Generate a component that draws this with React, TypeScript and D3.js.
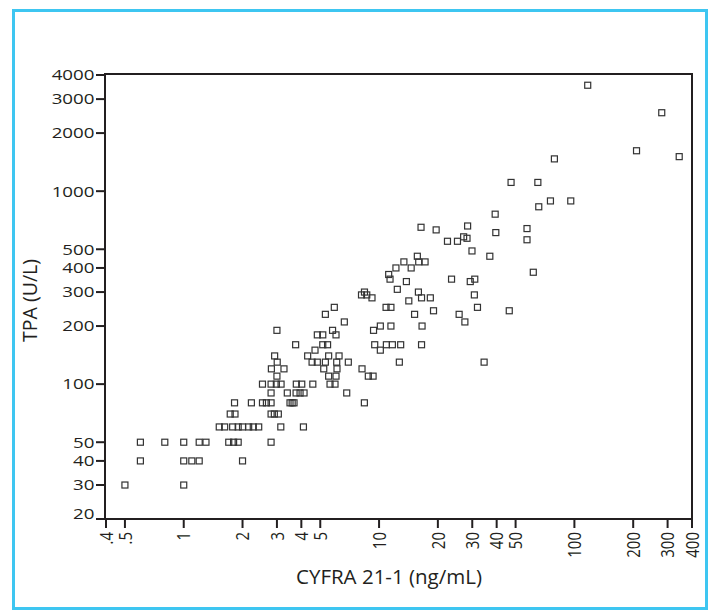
import React from "react";
import * as d3 from "d3";

// CYFRA 21-1 (ng/mL) and TPA (U/L) per patient, grouped by TPA level
const cyfra = [
  0.5, 1.0,
  0.6, 1.0, 1.1, 1.2, 2.0,
  0.6, 0.8, 1.0, 1.2, 1.3, 1.7, 1.8, 1.9, 2.8,
  1.52, 1.62, 1.78, 1.9, 2.0, 2.15, 2.27, 2.42, 3.14, 4.1,
  1.73, 1.83, 2.8, 2.91, 3.05,
  1.82, 2.22, 2.53, 2.65, 2.8, 3.5, 3.59, 3.67, 8.41,
  2.8, 3.39, 3.76, 3.94, 4.13, 6.83,
  2.53, 2.8, 2.98, 3.15, 3.77, 4.02, 4.58, 5.61, 5.95,
  3.0, 5.52, 6.02, 8.81, 9.32,
  2.81, 3.26, 5.21, 6.09, 8.18,
  3.01, 4.54, 4.83, 5.31, 6.07, 6.96, 12.7, 34.5,
  2.92, 4.31, 5.52, 6.24,
  4.7, 10.15,
  3.74, 5.15, 5.45, 9.5, 10.9, 11.7, 12.9, 16.5,
  4.83, 5.15, 6.02,
  3.0, 5.78, 9.37,
  10.15, 11.5, 16.6,
  6.64, 27.5,
  5.31, 15.2, 25.7,
  19.0, 46.4,
  5.9, 10.86, 11.5, 31.9,
  14.2,
  9.2, 16.5, 18.3,
  8.13, 8.65, 30.75,
  8.42, 15.9,
  12.4,
  13.8, 29.3,
  11.38, 23.5, 30.9,
  11.2,
  61.6,
  12.2, 14.6,
  13.4, 15.96, 17.2,
  15.7, 36.9,
  29.9,
  22.4, 25.2,
  57.2,
  28.2,
  27.1,
  39.6,
  19.6,
  57.2,
  16.4,
  28.4,
  39.3,
  65.7,
  75.4, 95.8,
  47.4, 65.0,
  79.0,
  344,
  208,
  280,
  117,
];

const tpa = [
  30, 30,
  40, 40, 40, 40, 40,
  50, 50, 50, 50, 50, 50, 50, 50, 50,
  60, 60, 60, 60, 60, 60, 60, 60, 60, 60,
  70, 70, 70, 70, 70,
  80, 80, 80, 80, 80, 80, 80, 80, 80,
  90, 90, 90, 90, 90, 90,
  100, 100, 100, 100, 100, 100, 100, 100, 100,
  110, 110, 110, 110, 110,
  120, 120, 120, 120, 120,
  130, 130, 130, 130, 130, 130, 130, 130,
  140, 140, 140, 140,
  150, 150,
  160, 160, 160, 160, 160, 160, 160, 160,
  180, 180, 180,
  190, 190, 190,
  200, 200, 200,
  210, 210,
  230, 230, 230,
  240, 240,
  250, 250, 250, 250,
  270,
  280, 280, 280,
  290, 290, 290,
  300, 300,
  310,
  340, 340,
  350, 350, 350,
  370,
  380,
  400, 400,
  430, 430, 430,
  460, 460,
  490,
  550, 550,
  560,
  570,
  580,
  610,
  630,
  640,
  650,
  660,
  760,
  830,
  890, 890,
  1110, 1110,
  1470,
  1510,
  1620,
  2550,
  3540,
];

const xTicks = [0.4, 0.5, 1, 2, 3, 4, 5, 10, 20, 30, 40, 50, 100, 200, 300, 400];
const xTickLabels = [".4", ".5", "1", "2", "3", "4", "5", "10", "20", "30", "40", "50", "100", "200", "300", "400"];
const yTicks = [20, 30, 40, 50, 100, 200, 300, 400, 500, 1000, 2000, 3000, 4000];
const yTickLabels = ["20", "30", "40", "50", "100", "200", "300", "400", "500", "1000", "2000", "3000", "4000"];

const xTitle = "CYFRA 21-1 (ng/mL)";
const yTitle = "TPA (U/L)";

const W = 713;
const H = 611;
const LEFT = 105;
const RIGHT = 692;
const TOP = 74;
const BOTTOM = 519;
const INK = "#231f20";
const FONT = "'Open Sans', 'Noto Sans', sans-serif";

export default function App() {
  const x = d3.scaleLog().domain([0.4, 400]).range([106, RIGHT]);
  const y = d3.scaleLog().domain([20, 4000]).range([BOTTOM, 75]);
  const points = cyfra.map((c, i) => ({ c, t: tpa[i] }));
  const labelSize = 15;
  const stretch = 1.25;
  const capHalf = (0.714 * labelSize) / 2;

  return (
    <svg
      width={W}
      height={H}
      viewBox={`0 0 ${W} ${H}`}
      style={{ position: "absolute", left: 0, top: 0, background: "#fff" }}
      fontFamily={FONT}
    >
      <rect x={0} y={0} width={W} height={H} fill="#fff" />
      {/* outer frame */}
      <rect x={13.5} y={10.5} width={693} height={598} fill="none" stroke="#3ec6f1" strokeWidth={3} />

      {/* plot box */}
      <rect
        x={LEFT}
        y={TOP}
        width={RIGHT - LEFT}
        height={BOTTOM - TOP}
        fill="none"
        stroke={INK}
        strokeWidth={2}
      />

      {/* y axis ticks and labels */}
      {yTicks.map((v, i) => {
        const py = y(v);
        const dy = v === 20 ? -0.5 : capHalf;
        return (
          <g key={`y${v}`}>
            <line x1={96} x2={LEFT} y1={py} y2={py} stroke={INK} strokeWidth={2} />
            <text
              transform={`translate(94.5, ${py + dy}) scale(${stretch}, 1)`}
              textAnchor="end"
              fontSize={labelSize}
              fill={INK}
            >
              {yTickLabels[i]}
            </text>
          </g>
        );
      })}

      {/* x axis ticks and labels */}
      {xTicks.map((v, i) => {
        const px = x(v);
        return (
          <g key={`x${v}`}>
            <line x1={px} x2={px} y1={BOTTOM} y2={528} stroke={INK} strokeWidth={2} />
            <text
              transform={`translate(${px + capHalf * stretch}, 532) scale(${stretch}, 1) rotate(-90)`}
              textAnchor="end"
              fontSize={labelSize}
              fill={INK}
            >
              {xTickLabels[i]}
            </text>
          </g>
        );
      })}

      {/* axis titles */}
      <text
        x={389}
        y={584}
        textAnchor="middle"
        fontSize={20}
        fill={INK}
        textLength={186}
        lengthAdjust="spacingAndGlyphs"
      >
        {xTitle}
      </text>
      <text
        transform="translate(37, 300.5) rotate(-90)"
        textAnchor="middle"
        fontSize={20}
        fill={INK}
        textLength={83}
        lengthAdjust="spacingAndGlyphs"
      >
        {yTitle}
      </text>

      {/* scatter points */}
      {points.map((p, i) => (
        <rect
          key={i}
          x={x(p.c) - 3}
          y={y(p.t) - 3}
          width={6}
          height={6}
          fill="none"
          stroke="#333"
          strokeWidth={1.2}
        />
      ))}
    </svg>
  );
}
